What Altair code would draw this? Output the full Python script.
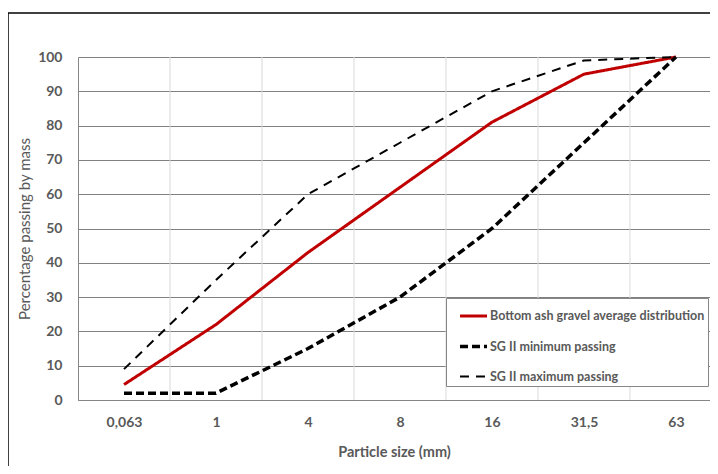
import json
import altair as alt
import pandas as pd

categories = ["0,063", "1", "4", "8", "16", "31,5", "63"]
bottom_ash = [4.5, 22, 43, 62, 81, 95, 100]
sg_min = [2, 2, 15, 30, 50, 75, 100]
sg_max = [9, 35, 60, 75, 90, 99, 100]
series_names = [
    "Bottom ash gravel average distribution",
    "SG II minimum passing",
    "SG II maximum passing",
]
series_values = [bottom_ash, sg_min, sg_max]

rows = []
for name, vals in zip(series_names, series_values):
    for i, (c, v) in enumerate(zip(categories, vals)):
        rows.append({"series": name, "idx": i, "cat": c, "value": v})
df = pd.DataFrame(rows)
cat_df = pd.DataFrame({"idx": list(range(len(categories))), "cat": categories})

FONT = "Lato"
GRAY = "#595959"

xscale = alt.Scale(domain=[-0.5, 6.37], nice=False, zero=False)

vgrid = alt.Chart(cat_df).transform_calculate(
    edge="datum.idx + 0.5"
).mark_rule(color="#d9d9d9", strokeWidth=1).encode(
    x=alt.X("edge:Q", scale=xscale)
)

lines = alt.Chart(df).mark_line(strokeCap="butt").encode(
    x=alt.X(
        "idx:Q",
        scale=xscale,
        axis=alt.Axis(
            values=list(range(len(categories))),
            labelExpr=f"{json.dumps(categories)}[datum.value]",
            grid=False,
            ticks=False,
            domainColor="#868686",
            labelFont=FONT,
            labelFontSize=14,
            labelFontWeight="bold",
            labelColor=GRAY,
            labelPadding=15,
            title="Particle size (mm)",
            titleFont=FONT,
            titleFontSize=14.5,
            titleFontWeight="bold",
            titleColor=GRAY,
            titlePadding=16,
        ),
    ),
    y=alt.Y(
        "value:Q",
        scale=alt.Scale(domain=[0, 100], nice=False),
        axis=alt.Axis(
            values=list(range(0, 101, 10)),
            grid=True,
            gridColor="#808080",
            gridWidth=1,
            ticks=False,
            domainColor="#868686",
            labelFont=FONT,
            labelFontSize=14,
            labelFontWeight="bold",
            labelColor=GRAY,
            labelPadding=16,
            title="Percentage passing by mass",
            titleFont=FONT,
            titleFontSize=15,
            titleFontWeight="normal",
            titleColor=GRAY,
            titlePadding=5,
        ),
    ),
    color=alt.Color(
        "series:N",
        scale=alt.Scale(domain=series_names, range=["#c00000", "#000000", "#000000"]),
        legend=alt.Legend(title=None),
    ),
    strokeDash=alt.StrokeDash(
        "series:N",
        scale=alt.Scale(domain=series_names, range=[[1, 0], [8, 4], [9, 7]]),
        legend=alt.Legend(title=None),
    ),
    strokeWidth=alt.StrokeWidth(
        "series:N",
        scale=alt.Scale(type="ordinal", domain=series_names, range=[3, 3.5, 2]),
        legend=alt.Legend(title=None),
    ),
    detail="series:N",
)

one = pd.DataFrame({"a": [0]})
frame_left = alt.Chart(one).mark_rule(color="#000000", strokeWidth=1.5).encode(
    x=alt.value(-70), y=alt.value(-44), y2=alt.value(420)
)
frame_top = alt.Chart(one).mark_rule(color="#000000", strokeWidth=1.5).encode(
    x=alt.value(-70), x2=alt.value(700), y=alt.value(-44)
)

chart = alt.layer(vgrid, lines, frame_left, frame_top).properties(
    width=632,
    height=343,
    autosize=alt.AutoSizeParams(type="none"),
    padding={"left": 70, "top": 49, "right": 0, "bottom": 66},
).configure_view(stroke=None).configure_legend(
    orient="none",
    legendX=368,
    legendY=241,
    fillColor="white",
    strokeColor="#868686",
    padding=3,
    symbolType="stroke",
    symbolSize=729,
    symbolOffset=9,
    rowPadding=8,
    labelFont=FONT,
    labelFontSize=12.5,
    labelFontWeight="bold",
    labelColor=GRAY,
    labelOffset=1,
    labelLimit=400,
)

chart.save("out.html", embed_options={"renderer": "svg", "actions": False})
